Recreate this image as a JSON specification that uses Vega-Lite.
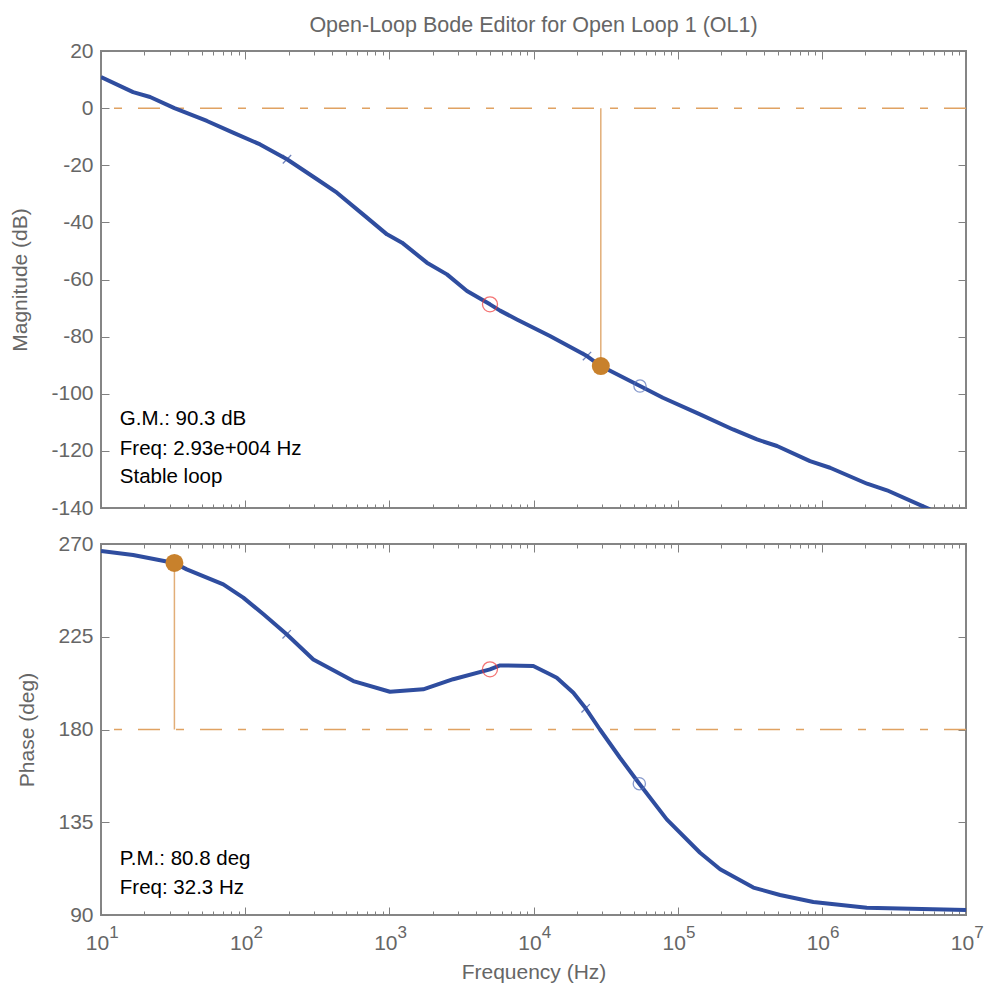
{
  "$schema": "https://vega.github.io/schema/vega-lite/v6.json",
  "padding": {"left": 8, "top": 13, "right": 5, "bottom": 5},
  "background": "white",
  "spacing": 36,
  "bounds": "flush",
  "datasets": {
    "mag": [
      {"f": 10, "v": 10.9}, {"f": 16.7, "v": 5.6}, {"f": 21.9, "v": 3.9}, {"f": 32.3, "v": 0},
      {"f": 54.3, "v": -4.5}, {"f": 82.4, "v": -8.6}, {"f": 127, "v": -12.7}, {"f": 195, "v": -17.9},
      {"f": 315, "v": -24.9}, {"f": 433, "v": -29.6}, {"f": 657, "v": -37.2}, {"f": 963, "v": -44.2},
      {"f": 1225, "v": -47.1}, {"f": 1822, "v": -54.1}, {"f": 2510, "v": -58.2}, {"f": 3457, "v": -64.0},
      {"f": 4990, "v": -68.7}, {"f": 5860, "v": -70.9}, {"f": 7670, "v": -74.0}, {"f": 13000, "v": -79.8},
      {"f": 23500, "v": -86.8}, {"f": 29300, "v": -90.3}, {"f": 54800, "v": -97.3}, {"f": 79000, "v": -101.4},
      {"f": 143000, "v": -107.2}, {"f": 242000, "v": -112.5}, {"f": 355000, "v": -116.0}, {"f": 489000, "v": -118.3},
      {"f": 828000, "v": -123.6}, {"f": 1140000, "v": -125.9}, {"f": 2060000, "v": -131.5}, {"f": 2830000, "v": -133.8},
      {"f": 5620000, "v": -140.5}
    ],
    "phase": [
      {"f": 10, "v": 266.6}, {"f": 16.7, "v": 264.7}, {"f": 32.3, "v": 260.8}, {"f": 39.3, "v": 257.7},
      {"f": 70.5, "v": 250.4}, {"f": 97, "v": 244.0}, {"f": 134, "v": 235.9}, {"f": 194, "v": 226.2},
      {"f": 297, "v": 214.0}, {"f": 563, "v": 203.5}, {"f": 1010, "v": 198.3}, {"f": 1718, "v": 199.5},
      {"f": 2773, "v": 204.4}, {"f": 4990, "v": 209.2}, {"f": 5860, "v": 211.1}, {"f": 9970, "v": 210.8},
      {"f": 13000, "v": 206.8}, {"f": 14500, "v": 205.1}, {"f": 18900, "v": 197.8}, {"f": 23000, "v": 190.3},
      {"f": 28900, "v": 180.0}, {"f": 39800, "v": 166.3}, {"f": 54200, "v": 153.7}, {"f": 84000, "v": 136.4},
      {"f": 143000, "v": 120.2}, {"f": 197000, "v": 112.2}, {"f": 335000, "v": 103.3}, {"f": 513000, "v": 99.7},
      {"f": 873000, "v": 96.3}, {"f": 2050000, "v": 93.5}, {"f": 10000000, "v": 92.4}
    ],
    "magpts": [
      {"f": 195, "v": -17.9, "kind": "x"},
      {"f": 23500, "v": -86.8, "kind": "x"},
      {"f": 4990, "v": -68.7, "kind": "red"},
      {"f": 54800, "v": -97.3, "kind": "blue"},
      {"f": 29300, "v": -90.3, "ref": 0, "kind": "margin"}
    ],
    "phasepts": [
      {"f": 194, "v": 226.2, "kind": "x"},
      {"f": 23000, "v": 190.3, "kind": "x"},
      {"f": 4990, "v": 209.2, "kind": "red"},
      {"f": 54200, "v": 153.7, "kind": "blue"},
      {"f": 32.3, "v": 260.8, "ref": 180, "kind": "margin"}
    ],
    "magref": [{"v": 0}],
    "phaseref": [{"v": 180}],
    "magnotes": [
      {"f": 13.5, "v": -108.9, "label": "G.M.: 90.3 dB"},
      {"f": 13.5, "v": -119.4, "label": "Freq: 2.93e+004 Hz"},
      {"f": 13.5, "v": -129.2, "label": "Stable loop"}
    ],
    "phasenotes": [
      {"f": 13.5, "v": 117.2, "label": "P.M.: 80.8 deg"},
      {"f": 13.5, "v": 103.1, "label": "Freq: 32.3 Hz"}
    ]
  },
  "vconcat": [
    {
      "width": 865,
      "height": 457,
      "title": {"text": "Open-Loop Bode Editor for Open Loop 1 (OL1)", "fontSize": 21.5, "fontWeight": "normal", "color": "#666666", "frame": "group", "anchor": "middle", "offset": 4},
      "resolve": {"axis": {"x": "independent", "y": "independent"}},
      "layer": [
        {
          "data": {"name": "magref"},
          "mark": {"type": "rule", "color": "#E0A262", "strokeWidth": 1.5, "strokeDash": [22, 16, 8, 16]},
          "encoding": {"y": {"field": "v", "type": "quantitative", "scale": {"domain": [-140, 20], "nice": false, "zero": false}, "axis": null}}
        },
        {
          "data": {"name": "mag"},
          "mark": {"type": "line", "color": "#2f4d9f", "strokeWidth": 4, "clip": true, "strokeJoin": "round"},
          "encoding": {
            "x": {"field": "f", "type": "quantitative", "scale": {"type": "log", "domain": [10, 10000000], "nice": false},
                  "axis": {"orient": "bottom", "values": [10, 100, 1000, 10000, 100000, 1000000, 10000000], "tickSize": -8, "labels": false, "title": null}},
            "y": {"field": "v", "type": "quantitative", "scale": {"domain": [-140, 20], "nice": false, "zero": false},
                  "axis": {"orient": "left", "values": [-140, -120, -100, -80, -60, -40, -20, 0, 20], "tickSize": -8, "labelPadding": 16, "labelExpr": "'' + datum.value", "title": "Magnitude (dB)", "titlePadding": 20}}
          }
        },
        {
          "data": {"name": "magpts"},
          "transform": [{"filter": "datum.kind == 'margin'"}],
          "mark": {"type": "rule", "color": "#E2AE78", "strokeWidth": 1.5},
          "encoding": {
            "x": {"field": "f", "type": "quantitative", "scale": {"type": "log", "domain": [10, 10000000], "nice": false},
                  "axis": {"orient": "top", "values": [10, 100, 1000, 10000, 100000, 1000000, 10000000], "tickSize": -8, "labels": false, "title": null}},
            "y": {"field": "v", "type": "quantitative", "scale": {"domain": [-140, 20], "nice": false, "zero": false},
                  "axis": {"orient": "right", "values": [-140, -120, -100, -80, -60, -40, -20, 0, 20], "tickSize": -8, "labels": false, "title": null}},
            "y2": {"field": "ref"}
          }
        },
        {
          "data": {"name": "magpts"},
          "transform": [{"filter": "datum.kind == 'x'"}],
          "mark": {"type": "point", "shape": "M-1,-1L1,1M-1,1L1,-1", "size": 70, "filled": false, "color": "#3550a0", "strokeWidth": 1.3},
          "encoding": {
            "x": {"field": "f", "type": "quantitative", "scale": {"type": "log", "domain": [10, 10000000], "nice": false},
                  "axis": {"orient": "bottom", "values": [20,30,40,50,60,70,80,90,200,300,400,500,600,700,800,900,2000,3000,4000,5000,6000,7000,8000,9000,20000,30000,40000,50000,60000,70000,80000,90000,200000,300000,400000,500000,600000,700000,800000,900000,2000000,3000000,4000000,5000000,6000000,7000000,8000000,9000000], "tickSize": -4, "labels": false, "title": null}},
            "y": {"field": "v", "type": "quantitative", "scale": {"domain": [-140, 20], "nice": false, "zero": false}, "axis": null}
          }
        },
        {
          "data": {"name": "magpts"},
          "transform": [{"filter": "datum.kind == 'red'"}],
          "mark": {"type": "point", "shape": "circle", "size": 225, "filled": false, "color": "#f03a3a", "strokeWidth": 1.3},
          "encoding": {
            "x": {"field": "f", "type": "quantitative", "scale": {"type": "log", "domain": [10, 10000000], "nice": false},
                  "axis": {"orient": "top", "values": [20,30,40,50,60,70,80,90,200,300,400,500,600,700,800,900,2000,3000,4000,5000,6000,7000,8000,9000,20000,30000,40000,50000,60000,70000,80000,90000,200000,300000,400000,500000,600000,700000,800000,900000,2000000,3000000,4000000,5000000,6000000,7000000,8000000,9000000], "tickSize": -4, "labels": false, "title": null}},
            "y": {"field": "v", "type": "quantitative", "scale": {"domain": [-140, 20], "nice": false, "zero": false}, "axis": null}
          }
        },
        {
          "data": {"name": "magpts"},
          "transform": [{"filter": "datum.kind == 'blue'"}],
          "mark": {"type": "point", "shape": "circle", "size": 150, "filled": false, "color": "#5570b8", "strokeWidth": 1.3},
          "encoding": {
            "x": {"field": "f", "type": "quantitative", "scale": {"type": "log", "domain": [10, 10000000], "nice": false}, "axis": null},
            "y": {"field": "v", "type": "quantitative", "scale": {"domain": [-140, 20], "nice": false, "zero": false}, "axis": null}
          }
        },
        {
          "data": {"name": "magpts"},
          "transform": [{"filter": "datum.kind == 'margin'"}],
          "mark": {"type": "circle", "size": 324, "color": "#c8812c", "opacity": 1},
          "encoding": {
            "x": {"field": "f", "type": "quantitative", "scale": {"type": "log", "domain": [10, 10000000], "nice": false}, "axis": null},
            "y": {"field": "v", "type": "quantitative", "scale": {"domain": [-140, 20], "nice": false, "zero": false}, "axis": null}
          }
        },
        {
          "data": {"name": "magnotes"},
          "mark": {"type": "text", "align": "left", "baseline": "middle", "fontSize": 20.5, "color": "#000000"},
          "encoding": {
            "x": {"field": "f", "type": "quantitative", "scale": {"type": "log", "domain": [10, 10000000], "nice": false}, "axis": null},
            "y": {"field": "v", "type": "quantitative", "scale": {"domain": [-140, 20], "nice": false, "zero": false}, "axis": null},
            "text": {"field": "label"}
          }
        }
      ]
    },
    {
      "width": 865,
      "height": 371,
      "resolve": {"axis": {"x": "independent", "y": "independent"}},
      "layer": [
        {
          "data": {"name": "phaseref"},
          "mark": {"type": "rule", "color": "#E0A262", "strokeWidth": 1.5, "strokeDash": [22, 16, 8, 16]},
          "encoding": {"y": {"field": "v", "type": "quantitative", "scale": {"domain": [90, 270], "nice": false, "zero": false}, "axis": null}}
        },
        {
          "data": {"name": "phase"},
          "mark": {"type": "line", "color": "#2f4d9f", "strokeWidth": 4, "clip": true, "strokeJoin": "round"},
          "encoding": {
            "x": {"field": "f", "type": "quantitative", "scale": {"type": "log", "domain": [10, 10000000], "nice": false},
                  "axis": {"orient": "bottom", "values": [10, 100, 1000, 10000, 100000, 1000000, 10000000], "tickSize": -8, "labelPadding": 25.5, "labelOffset": -4, "labelExpr": "'10'", "labelFontSize": 21, "labelFlush": false, "labelOverlap": false, "title": "Frequency (Hz)", "titlePadding": 8}},
            "y": {"field": "v", "type": "quantitative", "scale": {"domain": [90, 270], "nice": false, "zero": false},
                  "axis": {"orient": "left", "values": [90, 135, 180, 225, 270], "tickSize": -8, "labelPadding": 16, "labelExpr": "'' + datum.value", "title": "Phase (deg)", "titlePadding": 20}}
          }
        },
        {
          "data": {"name": "phasepts"},
          "transform": [{"filter": "datum.kind == 'margin'"}],
          "mark": {"type": "rule", "color": "#E2AE78", "strokeWidth": 1.5},
          "encoding": {
            "x": {"field": "f", "type": "quantitative", "scale": {"type": "log", "domain": [10, 10000000], "nice": false},
                  "axis": {"orient": "top", "values": [10, 100, 1000, 10000, 100000, 1000000, 10000000], "tickSize": -8, "labels": false, "title": null}},
            "y": {"field": "v", "type": "quantitative", "scale": {"domain": [90, 270], "nice": false, "zero": false},
                  "axis": {"orient": "right", "values": [90, 135, 180, 225, 270], "tickSize": -8, "labels": false, "title": null}},
            "y2": {"field": "ref"}
          }
        },
        {
          "data": {"name": "phasepts"},
          "transform": [{"filter": "datum.kind == 'x'"}],
          "mark": {"type": "point", "shape": "M-1,-1L1,1M-1,1L1,-1", "size": 70, "filled": false, "color": "#3550a0", "strokeWidth": 1.3},
          "encoding": {
            "x": {"field": "f", "type": "quantitative", "scale": {"type": "log", "domain": [10, 10000000], "nice": false},
                  "axis": {"orient": "bottom", "values": [20,30,40,50,60,70,80,90,200,300,400,500,600,700,800,900,2000,3000,4000,5000,6000,7000,8000,9000,20000,30000,40000,50000,60000,70000,80000,90000,200000,300000,400000,500000,600000,700000,800000,900000,2000000,3000000,4000000,5000000,6000000,7000000,8000000,9000000], "tickSize": -4, "labels": false, "title": null}},
            "y": {"field": "v", "type": "quantitative", "scale": {"domain": [90, 270], "nice": false, "zero": false}, "axis": null}
          }
        },
        {
          "data": {"name": "phasepts"},
          "transform": [{"filter": "datum.kind == 'red'"}],
          "mark": {"type": "point", "shape": "circle", "size": 225, "filled": false, "color": "#f03a3a", "strokeWidth": 1.3},
          "encoding": {
            "x": {"field": "f", "type": "quantitative", "scale": {"type": "log", "domain": [10, 10000000], "nice": false},
                  "axis": {"orient": "top", "values": [20,30,40,50,60,70,80,90,200,300,400,500,600,700,800,900,2000,3000,4000,5000,6000,7000,8000,9000,20000,30000,40000,50000,60000,70000,80000,90000,200000,300000,400000,500000,600000,700000,800000,900000,2000000,3000000,4000000,5000000,6000000,7000000,8000000,9000000], "tickSize": -4, "labels": false, "title": null}},
            "y": {"field": "v", "type": "quantitative", "scale": {"domain": [90, 270], "nice": false, "zero": false}, "axis": null}
          }
        },
        {
          "data": {"name": "phasepts"},
          "transform": [{"filter": "datum.kind == 'blue'"}],
          "mark": {"type": "point", "shape": "circle", "size": 150, "filled": false, "color": "#5570b8", "strokeWidth": 1.3},
          "encoding": {
            "x": {"field": "f", "type": "quantitative", "scale": {"type": "log", "domain": [10, 10000000], "nice": false},
                  "axis": {"orient": "bottom", "values": [10, 100, 1000, 10000, 100000, 1000000, 10000000], "ticks": false, "labelPadding": 9, "labelOffset": 12.5, "labelExpr": "'' + round(log(datum.value) / LN10)", "labelFontSize": 17, "labelFlush": false, "labelOverlap": false, "title": null}},
            "y": {"field": "v", "type": "quantitative", "scale": {"domain": [90, 270], "nice": false, "zero": false}, "axis": null}
          }
        },
        {
          "data": {"name": "phasepts"},
          "transform": [{"filter": "datum.kind == 'margin'"}],
          "mark": {"type": "circle", "size": 324, "color": "#c8812c", "opacity": 1},
          "encoding": {
            "x": {"field": "f", "type": "quantitative", "scale": {"type": "log", "domain": [10, 10000000], "nice": false}, "axis": null},
            "y": {"field": "v", "type": "quantitative", "scale": {"domain": [90, 270], "nice": false, "zero": false}, "axis": null}
          }
        },
        {
          "data": {"name": "phasenotes"},
          "mark": {"type": "text", "align": "left", "baseline": "middle", "fontSize": 20.5, "color": "#000000"},
          "encoding": {
            "x": {"field": "f", "type": "quantitative", "scale": {"type": "log", "domain": [10, 10000000], "nice": false}, "axis": null},
            "y": {"field": "v", "type": "quantitative", "scale": {"domain": [90, 270], "nice": false, "zero": false}, "axis": null},
            "text": {"field": "label"}
          }
        }
      ]
    }
  ],
  "config": {
    "font": "Liberation Sans",
    "view": {"stroke": "#858585", "strokeWidth": 2},
    "axis": {"domain": false, "grid": false, "tickColor": "#808080", "tickWidth": 1, "labelColor": "#666666", "labelFontSize": 21, "titleColor": "#666666", "titleFontSize": 21, "titleFontWeight": "normal", "labelFont": "Liberation Sans", "titleFont": "Liberation Sans"}
  }
}
